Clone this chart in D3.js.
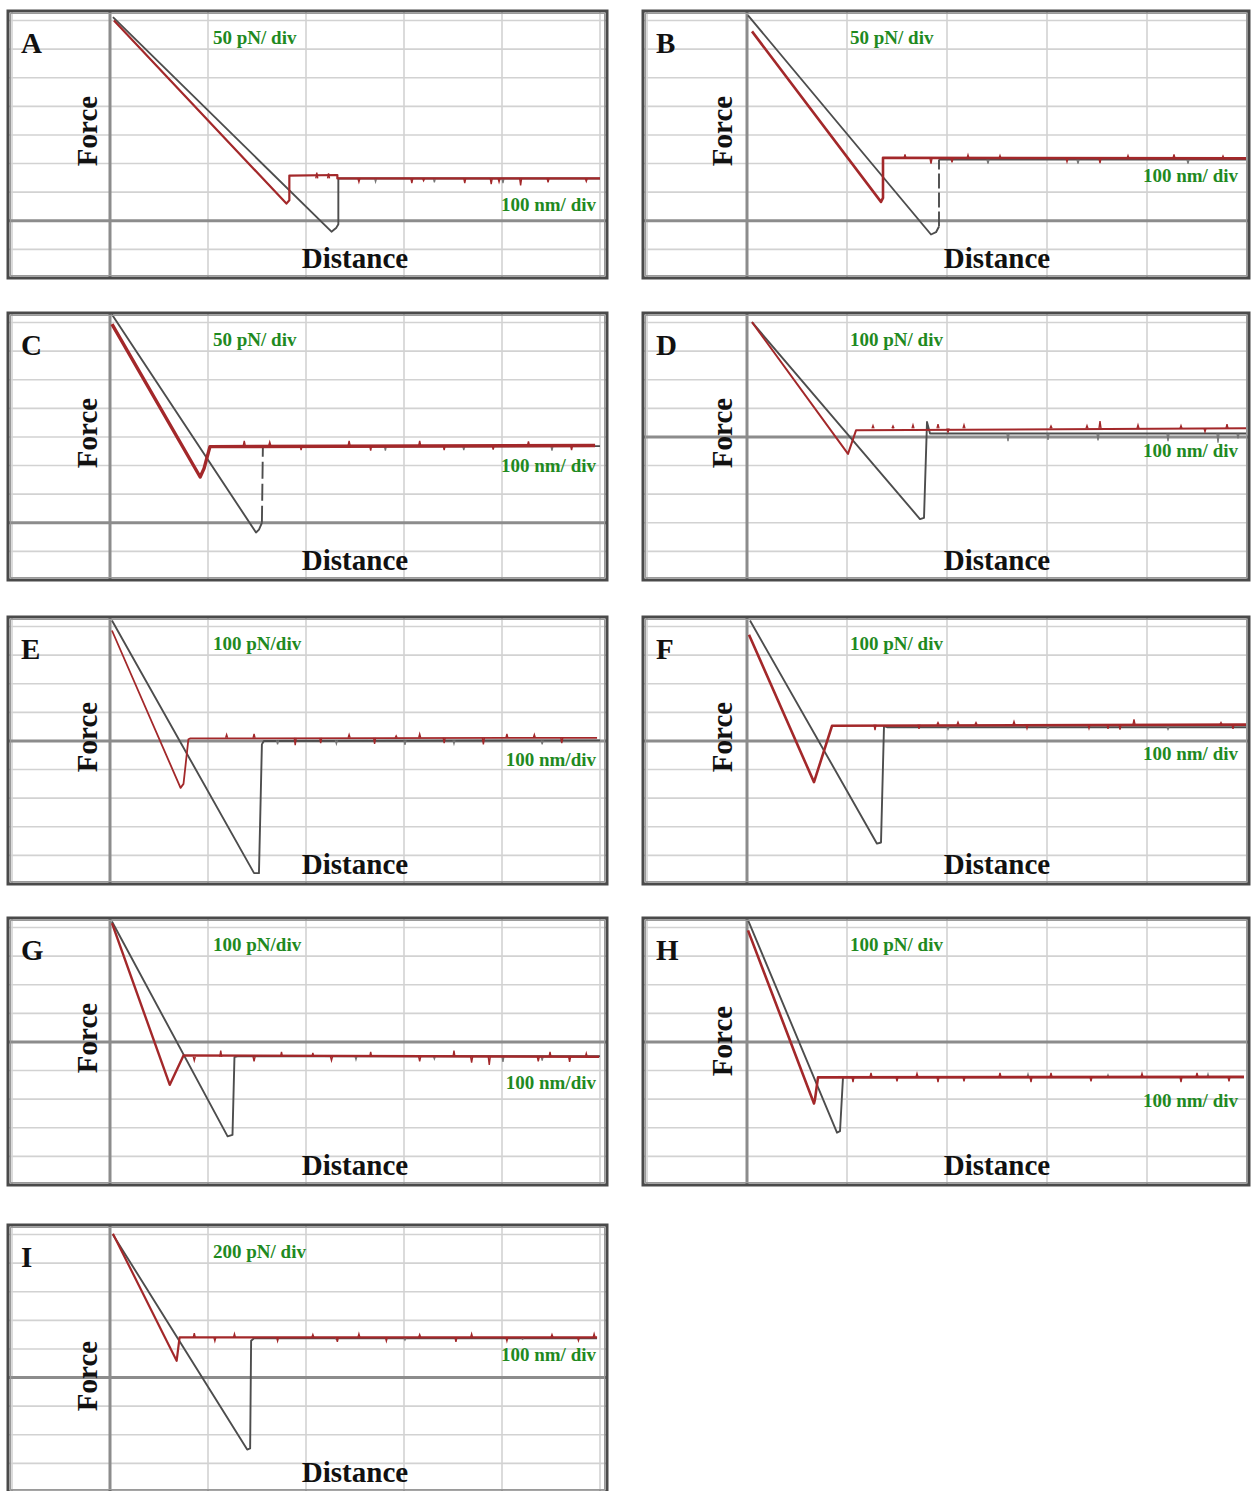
<!DOCTYPE html>
<html><head><meta charset="utf-8">
<script src="https://cdn.jsdelivr.net/npm/d3@7"></script>
<style>html,body{margin:0;padding:0;background:#fff;}svg{display:block;}</style>
</head><body>
<svg id="chart" width="1253" height="1491"></svg>
<script>
// ---------------- DATA ----------------
const panelLetters = ["A","B","C","D","E","F","G","H","I"];
const forcePerDiv = [50,50,50,100,100,100,100,100,200];   // pN per division
const distancePerDiv = 100;                                 // nm per division
const divsAboveZero = [7,7,7,4,4,4,4,4,5];                  // grid rows above the zero-force line
const forceScaleLabels = ["50 pN/ div","50 pN/ div","50 pN/ div","100 pN/ div","100 pN/div","100 pN/ div","100 pN/div","100 pN/ div","200 pN/ div"];
const distanceScaleLabels = ["100 nm/ div","100 nm/ div","100 nm/ div","100 nm/ div","100 nm/div","100 nm/ div","100 nm/div","100 nm/ div","100 nm/ div"];
const xTicks = [-100,0,100,200,300,400,500];

// gray curve vertices [distance nm, force pN]
const grayA = [[3,356],[226,-19],[231,-12],[233,-6],[233,74],[500,74]];
const grayB = [[1,359],[184,-24],[189,-20],[192,-10],[192,107],[500,107]];
const grayC = [[2,364],[149,-17],[152,-12],[155,0],[156,133],[500,134]];
const grayD = [[5,401],[173,-287],[177,-283],[180,52],[183,12],[500,12]];
const grayE = [[2,421],[147,-462],[152,-462],[155,-12],[157,0],[500,2]];
const grayF = [[3,421],[130,-359],[134,-355],[137,52],[140,48],[500,48]];
const grayG = [[2,421],[120,-330],[125,-325],[127,-53],[130,-50],[500,-50]];
const grayH = [[1,426],[90,-317],[93,-312],[96,-124],[100,-124],[497,-124]];
const grayI = [[3,999],[140,-503],[143,-495],[144,258],[147,275],[497,275]];

// red curve vertices [distance nm, force pN]
const redA = [[4,350],[180,30],[183,36],[183,79],[232,80],[232,74],[500,74]];
const redB = [[5,331],[134,33],[136,40],[136,110],[500,109]];
const redC = [[2,347],[92,80],[96,95],[102,133],[495,135]];
const redD = [[5,401],[101,-59],[109,23],[500,30]];
const redE = [[2,386],[72,-164],[75,-150],[80,6],[82,9],[497,11]];
const redF = [[2,371],[67,-144],[85,53],[500,57]];
const redG = [[2,415],[61,-150],[75,-47],[499,-52]];
const redH = [[1,390],[67,-215],[68,-200],[71,-124],[497,-122]];
const redI = [[3,1006],[68,117],[71,281],[497,281]];

// noise spikes on the baselines [distance nm, spike force pN]
const redNoiseA = [[210,84],[222,83],[253,68],[307,66],[319,70],[361,66],[388,64],[396,68],[418,62],[446,67],[485,69]];
const redNoiseB = [[157,116],[183,100],[204,102],[220,115],[252,114],[319,103],[352,101],[380,114],[426,116],[475,113]];
const redNoiseC = [[136,143],[162,141],[194,127],[243,143],[265,126],[315,143],[340,127],[390,128],[426,142],[470,127]];
const redNoiseD = [[125,40],[145,38],[165,42],[190,45],[200,15],[216,42],[303,38],[339,40],[352,55],[390,42],[433,40],[457,18],[479,45]];
const redNoiseE = [[118,22],[146,25],[188,-15],[214,-8],[243,22],[269,-10],[291,18],[315,24],[340,-8],[380,-12],[404,25],[432,22],[460,-8]];
const redNoiseF = [[127,38],[171,42],[190,64],[210,66],[228,64],[266,68],[279,44],[341,44],[360,42],[372,40],[386,75],[473,64],[485,42]];
const redNoiseG = [[85,-65],[112,-30],[146,-68],[174,-35],[206,-38],[225,-65],[265,-35],[315,-68],[350,-30],[368,-72],[386,-80],[436,-68],[448,-35],[468,-70],[485,-40]];
const redNoiseH = [[105,-140],[123,-108],[149,-138],[169,-110],[190,-140],[216,-138],[252,-108],[283,-140],[303,-108],[343,-138],[394,-110],[433,-140],[449,-108],[481,-138]];
const redNoiseI = [[85,310],[106,255],[126,305],[170,255],[206,300],[231,250],[253,305],[281,255],[315,300],[352,250],[368,305],[404,255],[450,300],[477,258],[493,305]];
const grayNoiseA = [[270,68],[330,67],[400,66]];
const grayNoiseB = [[240,100],[330,100],[440,100]];
const grayNoiseC = [[280,126],[360,127],[450,126]];
const grayNoiseD = [[260,-15],[300,-10],[350,-12],[420,-15],[470,-20],[490,-5]];
const grayNoiseE = [[170,-12],[230,-10],[300,-14],[350,-10],[440,-12]];
const grayNoiseF = [[200,40],[300,44],[420,40]];
const grayNoiseG = [[250,-62],[330,-60],[400,-70],[440,-65]];
const grayNoiseH = [[280,-112],[360,-115],[460,-112]];
const grayNoiseI = [[230,265],[300,262],[420,268]];

const grayCurves = [grayA,grayB,grayC,grayD,grayE,grayF,grayG,grayH,grayI];
const redCurves = [redA,redB,redC,redD,redE,redF,redG,redH,redI];
const redNoise = [redNoiseA,redNoiseB,redNoiseC,redNoiseD,redNoiseE,redNoiseF,redNoiseG,redNoiseH,redNoiseI];
const grayNoise = [grayNoiseA,grayNoiseB,grayNoiseC,grayNoiseD,grayNoiseE,grayNoiseF,grayNoiseG,grayNoiseH,grayNoiseI];

// ---------------- LAYOUT / STYLE ----------------
const columns = [
  {frameX: 8,   frameW: 599, axisX: 110, divPx: 98},
  {frameX: 643, frameW: 606, axisX: 747, divPx: 100}
];
const panelTops = [11,11,313,313,617,617,918,918,1225];
const frameH = 267, firstLine = 9.5;
const forceLabelY = [120,120,120,120,120,120,120,123,151];
const nmLabelY = [200,171,159,144,149,143,171,189,136];
const redWidth = [2.2,2.6,3.4,2.0,1.8,2.6,2.4,2.6,2.2];
const jumpDash = [null,"15 4","17 5",null,null,null,null,null,null];
const serif = "'Liberation Serif','Times New Roman',serif";

const svg = d3.select("#chart");

panelLetters.forEach((letter, i) => {
  const col = columns[i % 2];
  const T = panelTops[i];
  const k = divsAboveZero[i];
  const ppd = forcePerDiv[i];

  const x = d3.scaleLinear().domain([0, 5 * distancePerDiv]).range([col.axisX, col.axisX + 5 * col.divPx]);
  const y = d3.scaleLinear().domain([-(9 - k) * ppd, k * ppd]).range([T + frameH, T + firstLine]);

  const g = svg.append("g");
  const fx0 = col.frameX, fx1 = col.frameX + col.frameW;
  const fy0 = T, fy1 = T + frameH;

  g.append("rect").attr("x", fx0).attr("y", fy0).attr("width", col.frameW).attr("height", frameH)
    .attr("fill", "#fff");

  // grid
  const yTicks = d3.range(-(9 - k), k + 1).map(d => d * ppd);
  g.selectAll(".hg").data(yTicks.filter(d => d !== 0)).join("line")
    .attr("x1", fx0).attr("x2", fx1).attr("y1", d => y(d)).attr("y2", d => y(d))
    .attr("stroke", "#d2d2d2").attr("stroke-width", 1.6);
  g.selectAll(".vg").data(xTicks.filter(d => d !== 0)).join("line")
    .attr("x1", d => x(d)).attr("x2", d => x(d)).attr("y1", fy0).attr("y2", fy1)
    .attr("stroke", "#d2d2d2").attr("stroke-width", 1.6);
  // axes
  g.append("line").attr("x1", fx0).attr("x2", fx1).attr("y1", y(0)).attr("y2", y(0))
    .attr("stroke", "#8c8c8c").attr("stroke-width", 3);
  g.append("line").attr("x1", x(0)).attr("x2", x(0)).attr("y1", fy0).attr("y2", fy1)
    .attr("stroke", "#8c8c8c").attr("stroke-width", 3);

  // texts
  g.append("text").attr("x", fx0 + 13).attr("y", T + 42).text(letter)
    .attr("font-family", serif).attr("font-weight", "bold").attr("font-size", 29).attr("fill", "#111");
  g.append("text").attr("transform", `translate(${fx0 + 89},${T + forceLabelY[i]}) rotate(-90)`)
    .attr("text-anchor", "middle").text("Force")
    .attr("font-family", serif).attr("font-weight", "bold").attr("font-size", 29).attr("fill", "#111");
  g.append("text").attr("x", x(250)).attr("y", T + 257).attr("text-anchor", "middle").text("Distance")
    .attr("font-family", serif).attr("font-weight", "bold").attr("font-size", 29).attr("fill", "#111");
  g.append("text").attr("x", x(0) + 103).attr("y", T + 33).text(forceScaleLabels[i])
    .attr("font-family", serif).attr("font-weight", "bold").attr("font-size", 19).attr("fill", "#1f8a1f");
  g.append("text").attr("x", fx1 - 11).attr("y", T + nmLabelY[i]).attr("text-anchor", "end").text(distanceScaleLabels[i])
    .attr("font-family", serif).attr("font-weight", "bold").attr("font-size", 19).attr("fill", "#1f8a1f");

  const line = d3.line().x(d => x(d[0])).y(d => y(d[1]));

  // gray curve (jump segment optionally dashed) + noise
  const gc = grayCurves[i];
  const gBase = gc[gc.length - 1][1];
  const grayStyle = sel => sel.attr("fill", "none").attr("stroke", "#4d4d4d").attr("stroke-width", 1.9)
    .attr("stroke-linejoin", "round");
  if (jumpDash[i]) {
    // find the vertical jump (largest rise between consecutive vertices)
    let j = 0, best = -Infinity;
    for (let q = 1; q < gc.length; q++) {
      const rise = gc[q][1] - gc[q - 1][1];
      if (rise > best) { best = rise; j = q; }
    }
    g.append("path").attr("d", line(gc.slice(0, j))).call(grayStyle);
    g.append("path").attr("d", line(gc.slice(j - 1, j + 1))).call(grayStyle).attr("stroke-dasharray", jumpDash[i]);
    g.append("path").attr("d", line(gc.slice(j))).call(grayStyle);
  } else {
    g.append("path").attr("d", line(gc)).call(grayStyle);
  }
  grayNoise[i].forEach(s => {
    g.append("path").attr("d", line([[s[0], gBase], [s[0] + 1, s[1]], [s[0] + 2, gBase]]))
      .attr("fill", "none").attr("stroke", "#777").attr("stroke-width", 1.3);
  });

  // red curve + noise
  const rc = redCurves[i];
  const rBase = rc[rc.length - 1][1];
  g.append("path").attr("d", line(rc)).attr("fill", "none").attr("stroke", "#a3282a")
    .attr("stroke-width", redWidth[i]).attr("stroke-linejoin", "round");
  redNoise[i].forEach(s => {
    g.append("path").attr("d", line([[s[0], rBase], [s[0] + 1, s[1]], [s[0] + 2, rBase]]))
      .attr("fill", "none").attr("stroke", "#a3282a").attr("stroke-width", 1.4);
  });

  // frame
  g.append("rect").attr("x", fx0).attr("y", fy0).attr("width", col.frameW).attr("height", frameH)
    .attr("fill", "none").attr("stroke", "#4a4a4a").attr("stroke-width", 3);
  g.append("rect").attr("x", fx0 + 2.5).attr("y", fy0 + 2.5).attr("width", col.frameW - 5).attr("height", frameH - 5)
    .attr("fill", "none").attr("stroke", "#9a9a9a").attr("stroke-width", 1);
});
</script>
</body></html>
